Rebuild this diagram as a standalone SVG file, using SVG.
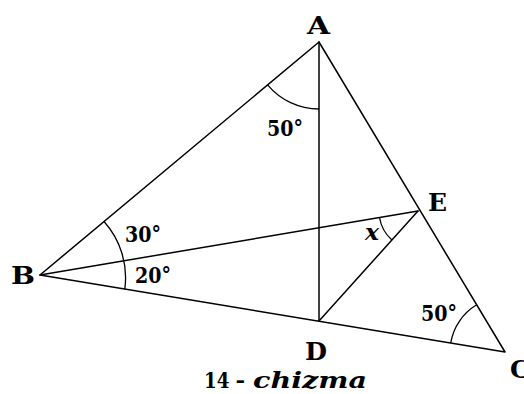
<svg xmlns="http://www.w3.org/2000/svg" width="524" height="394" viewBox="0 0 524 394">
<style>
.ln{stroke:#000;stroke-width:1.5;fill:none;stroke-linecap:round;stroke-linejoin:round}
.arc{stroke:#000;stroke-width:1.3;fill:none}
.lb{font-family:"DejaVu Serif","Liberation Serif",serif;font-weight:bold;font-size:25px;fill:#000}
.an{font-family:"DejaVu Serif","Liberation Serif",serif;font-weight:bold;font-size:23px;fill:#000}
.cap{font-family:"DejaVu Serif","Liberation Serif",serif;font-weight:bold;font-size:23px;fill:#000}
.it{font-style:italic}
</style>
<rect width="524" height="394" fill="#fff"/>
<g id="connectors">
<path class="ln" d="M319,42 L40,275 L505,352 Z"/>
<path class="ln" d="M319,42 L319,321"/>
<path class="ln" d="M40,275 L418,211"/>
<path class="ln" d="M319,321 L418,211"/>
</g>
<g id="angles">
<path class="arc" d="M267.6,84.9 A67,67 0 0 0 319,109"/>
<path class="arc" d="M104,221.5 A84,84 0 0 1 124.8,289.1"/>
<path class="arc" d="M391.9,240 A39,39 0 0 1 379.5,217.5"/>
<path class="arc" d="M476.7,304.8 A55,55 0 0 0 450.7,343"/>
</g>
<g id="node-A"><text class="lb" x="307" y="34" textLength="23" lengthAdjust="spacingAndGlyphs">A</text></g>
<g id="node-B"><text class="lb" x="11" y="284" textLength="24" lengthAdjust="spacingAndGlyphs">B</text></g>
<g id="node-C"><text class="lb" x="510" y="378" textLength="20" lengthAdjust="spacingAndGlyphs">C</text></g>
<g id="node-D"><text class="lb" x="305" y="360" textLength="22" lengthAdjust="spacingAndGlyphs">D</text></g>
<g id="node-E"><text class="lb" x="428" y="211" textLength="19" lengthAdjust="spacingAndGlyphs">E</text></g>
<g id="labels">
<text class="an" x="267" y="136" textLength="36" lengthAdjust="spacingAndGlyphs">50°</text>
<text class="an" x="125" y="242" textLength="36" lengthAdjust="spacingAndGlyphs">30°</text>
<text class="an" x="135" y="283" textLength="36" lengthAdjust="spacingAndGlyphs">20°</text>
<text class="an it" x="365" y="240" textLength="14" lengthAdjust="spacingAndGlyphs">x</text>
<text class="an" x="421" y="321" textLength="36" lengthAdjust="spacingAndGlyphs">50°</text>
<text class="cap" x="204" y="388" textLength="41" lengthAdjust="spacingAndGlyphs">14 –</text>
<text class="cap it" x="253" y="388" textLength="114" lengthAdjust="spacingAndGlyphs">chizma</text>
</g>
</svg>
